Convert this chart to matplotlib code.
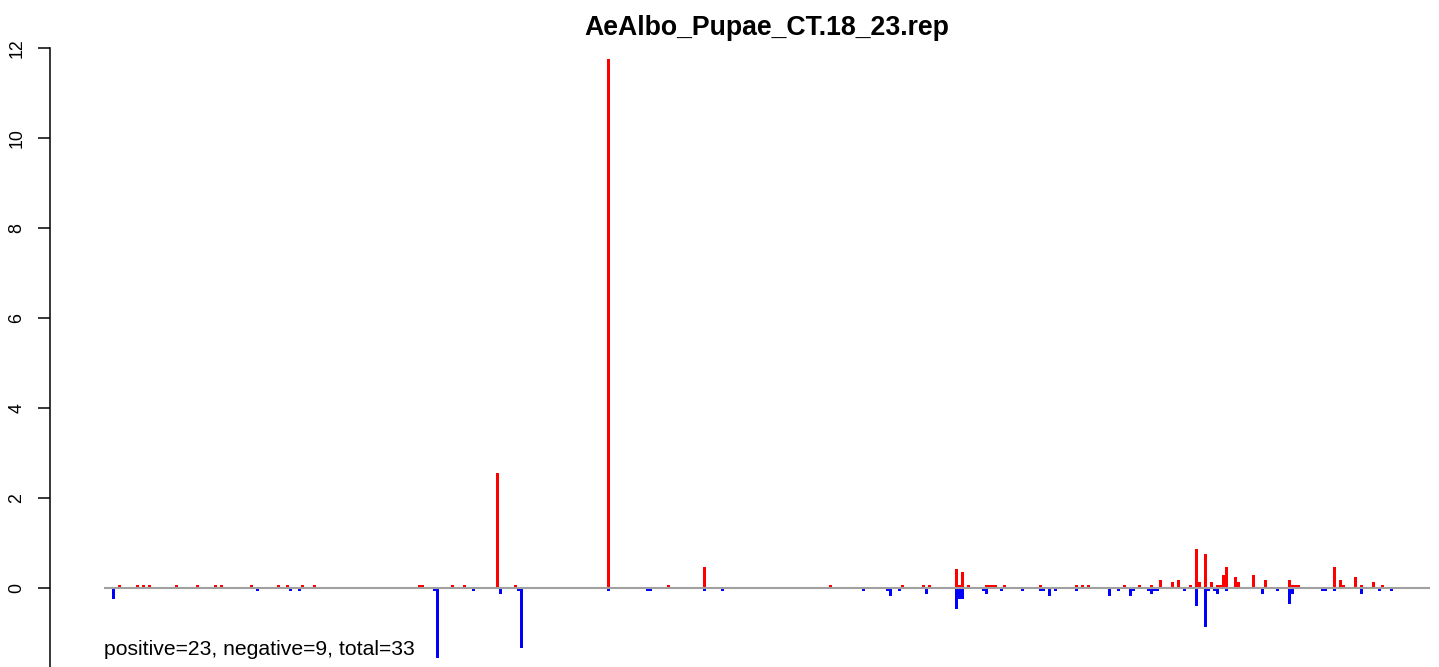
import matplotlib
matplotlib.use("Agg")
import matplotlib.pyplot as plt

plt.rcParams['font.family'] = ['Liberation Sans', 'DejaVu Sans']

title = "AeAlbo_Pupae_CT.18_23.rep"
summary = "positive=23, negative=9, total=33"

# bar slots (position index along the x axis) and values
up_slots = [2, 8, 10, 12, 21, 28, 34, 36, 46, 55, 58, 63, 67, 102, 103, 113,
            117, 128, 134, 165, 185, 197, 239, 263, 270, 272, 281, 282, 283,
            285, 291, 292, 293, 294, 297, 309, 321, 323, 325, 337, 342, 346,
            349, 353, 355, 359, 361, 362, 364, 366, 368, 369, 370, 371, 374,
            375, 380, 384, 392, 393, 394, 395, 407, 409, 410, 414, 416, 420,
            423]
up_values = [0.06, 0.06, 0.06, 0.06, 0.06, 0.06, 0.06, 0.06, 0.06, 0.06, 0.06,
             0.06, 0.06, 0.06, 0.06, 0.06, 0.06, 2.56, 0.06, 11.75, 0.06, 0.47,
             0.06, 0.06, 0.06, 0.06, 0.42, 0.06, 0.36, 0.06, 0.06, 0.06, 0.06,
             0.06, 0.06, 0.06, 0.06, 0.06, 0.06, 0.06, 0.06, 0.06, 0.18, 0.13,
             0.18, 0.06, 0.87, 0.13, 0.76, 0.13, 0.06, 0.06, 0.29, 0.47, 0.24,
             0.13, 0.29, 0.18, 0.18, 0.06, 0.06, 0.06, 0.47, 0.18, 0.06, 0.24,
             0.06, 0.13, 0.06]

down_slots = [0, 48, 59, 62, 107, 108, 120, 129, 135, 136, 165, 178, 179, 197,
              203, 250, 258, 259, 262, 271, 281, 282, 283, 290, 291, 296, 303,
              309, 310, 312, 314, 321, 332, 335, 339, 340, 345, 346, 347, 348,
              357, 361, 364, 365, 367, 368, 371, 383, 388, 392, 393, 403, 404,
              407, 416, 422, 426]
down_values = [-0.24, -0.065, -0.065, -0.065, -0.065, -1.55, -0.065, -0.13,
               -0.065, -1.33, -0.065, -0.065, -0.065, -0.065, -0.065, -0.065,
               -0.065, -0.18, -0.065, -0.13, -0.47, -0.24, -0.24, -0.065,
               -0.13, -0.065, -0.065, -0.065, -0.065, -0.18, -0.065, -0.065,
               -0.18, -0.065, -0.18, -0.065, -0.065, -0.13, -0.065, -0.065,
               -0.065, -0.40, -0.87, -0.065, -0.065, -0.13, -0.065, -0.13,
               -0.065, -0.36, -0.13, -0.065, -0.065, -0.065, -0.13, -0.065,
               -0.065]

yticks = [-2, 0, 2, 4, 6, 8, 10, 12]

W, H = 1439, 667
fig = plt.figure(figsize=(W / 100, H / 100), dpi=100)

# plot region in pixels (the bottom runs past the image edge, as in the reference)
left_px, right_px, top_px, bottom_px = 104, 1430, 30, 720
ax = fig.add_axes([left_px / W, (H - bottom_px) / H,
                   (right_px - left_px) / W, (bottom_px - top_px) / H])

ax.bar(up_slots, up_values, width=1, align='edge', color='#ff0000',
       linewidth=0, antialiased=False, zorder=2)
ax.bar(down_slots, down_values, width=1, align='edge', color='#0000ff',
       linewidth=0, antialiased=False, zorder=2)
ax.axhline(0, color='#a0a0a0', linewidth=1.5, zorder=3)

ax.set_xlim(-8 / 3, 439 + 1 / 3)
ax.set_ylim((588 - bottom_px) / 45, (588 - top_px) / 45)

for side in ['top', 'right', 'bottom']:
    ax.spines[side].set_visible(False)
ax.spines['left'].set_position(('outward', 38.9))
ax.spines['left'].set_bounds(-2, 12)
ax.spines['left'].set_linewidth(1.1)
ax.set_xticks([])
ax.set_yticks(yticks)
ax.set_yticklabels([str(t) for t in yticks])
ax.tick_params(axis='y', length=8.6, width=1.1, pad=9, labelsize=12.8,
               labelrotation=90)
for lab in ax.get_yticklabels():
    lab.set_verticalalignment('center')

fig.text(767 / W, 1 - 35 / H, title, ha='center', va='baseline',
         fontsize=19.2, fontweight='bold')
fig.text(104 / W, 1 - 655 / H, summary, ha='left', va='baseline',
         fontsize=15.25)

fig.savefig("out.png", dpi=100)
